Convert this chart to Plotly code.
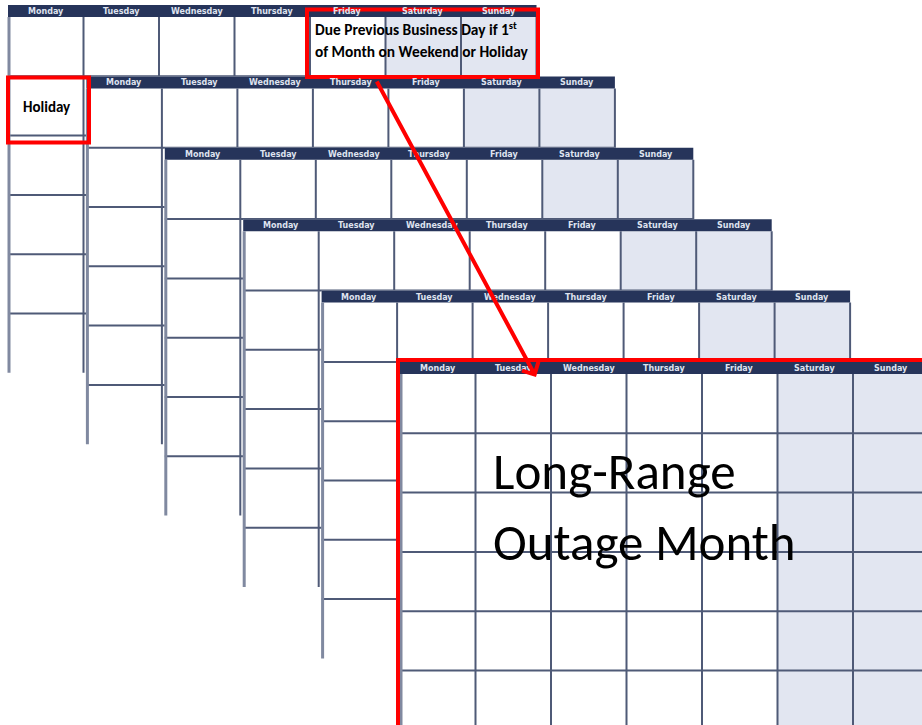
import plotly.graph_objects as go

# ---- content ----
days = ["Monday", "Tuesday", "Wednesday", "Thursday", "Friday", "Saturday", "Sunday"]
weekend_days = ["Saturday", "Sunday"]
n_calendars = 6
weeks_per_month = 6
holiday_label = "Holiday"
due_label_lines = ["Due Previous Business Day if 1<sup>st</sup>", "of Month on Weekend or Holiday"]
outage_label_lines = ["Long-Range", "Outage Month"]

# ---- geometry / style ----
W, H = 922, 725
X0, Y0 = 8.0, 5.0          # first calendar top-left
DX, DY = 78.4, 71.4        # stacking offsets
CW, HH, RH = 75.5, 12.0, 59.3
NAVY = "#26345a"
GRID = "#4f5a77"
EDGE = "#8089a0"
WEEKEND = "#e2e6f1"
RED = "#ff0000"

shapes = []
annotations = []


def rect(x0, y0, x1, y1, fill=None, line_color=None, lw=0):
    shapes.append(dict(type="rect", xref="x", yref="y", x0=x0, y0=y0, x1=x1, y1=y1,
                       fillcolor=fill if fill else "rgba(0,0,0,0)",
                       line=dict(color=line_color if line_color else "rgba(0,0,0,0)", width=lw),
                       layer="above"))


def line(x0, y0, x1, y1, color, lw):
    shapes.append(dict(type="line", xref="x", yref="y", x0=x0, y0=y0, x1=x1, y1=y1,
                       line=dict(color=color, width=lw), layer="above"))


for k in range(n_calendars):
    cx = X0 + DX * k
    cy = Y0 + DY * k
    right = cx + CW * len(days)
    top_body = cy + HH
    bottom = top_body + RH * weeks_per_month
    # body
    rect(cx, cy, right, bottom, fill="white")
    for i, d in enumerate(days):
        if d in weekend_days:
            rect(cx + CW * i, top_body, cx + CW * (i + 1), bottom, fill=WEEKEND)
    # header
    rect(cx, cy, right, top_body, fill=NAVY)
    # grid
    for j in range(1, weeks_per_month):
        yy = top_body + RH * j
        line(cx, yy, right, yy, GRID, 2)
    for i in range(1, len(days) + 1):
        xx = cx + CW * i
        line(xx, top_body, xx, bottom, GRID, 2)
    line(cx + 1, top_body, cx + 1, bottom, EDGE, 3)
    # day labels
    for i, d in enumerate(days):
        xc = cx + CW * (i + 0.5)
        if xc > W:
            continue
        annotations.append(dict(x=xc, y=cy + HH / 2 + 0.5, xref="x", yref="y", text=d,
                                showarrow=False, xanchor="center", yanchor="middle",
                                font=dict(family="DejaVu Sans", size=8, color="#dfe3ef", weight="bold")))

# red callout boxes
rect(8, 77.5, 89, 142.5, line_color=RED, lw=4)
rect(307, 9.5, 538, 77, fill=None, line_color=RED, lw=4)
rect(398, 360, W + 20, H + 20, line_color=RED, lw=4)

annotations.append(dict(x=47, y=107, xref="x", yref="y", text=holiday_label, showarrow=False,
                        xanchor="center", yanchor="middle",
                        font=dict(family="Carlito, Lato", size=15, color="black", weight="bold")))
for i, t in enumerate(due_label_lines):
    annotations.append(dict(x=313, y=29 + 22 * i, xref="x", yref="y", text=t, showarrow=False,
                            xanchor="left", yanchor="middle",
                            font=dict(family="Carlito, Lato", size=15.4, color="black", weight="bold")))
for i, t in enumerate(outage_label_lines):
    annotations.append(dict(x=491, y=471 + 71 * i, xref="x", yref="y", text=t, showarrow=False,
                            xanchor="left", yanchor="middle",
                            font=dict(family="Carlito, Lato", size=51, color="black")))

# arrow
annotations.append(dict(x=536, y=377, ax=376, ay=80, xref="x", yref="y", axref="x", ayref="y",
                        text="", showarrow=True, arrowhead=4, arrowsize=0.9, arrowwidth=4,
                        arrowcolor=RED, standoff=0, startstandoff=0))

fig = go.Figure()
fig.update_layout(
    width=W, height=H,
    margin=dict(l=0, r=0, t=0, b=0),
    paper_bgcolor="white", plot_bgcolor="white",
    xaxis=dict(range=[0, W], visible=False, fixedrange=True),
    yaxis=dict(range=[H, 0], visible=False, fixedrange=True),
    shapes=shapes, annotations=annotations, showlegend=False,
)
fig.write_html("out.html", config={"displayModeBar": False},
               post_script="document.body.style.margin='0';document.body.style.padding='0';document.body.style.overflow='hidden';")
